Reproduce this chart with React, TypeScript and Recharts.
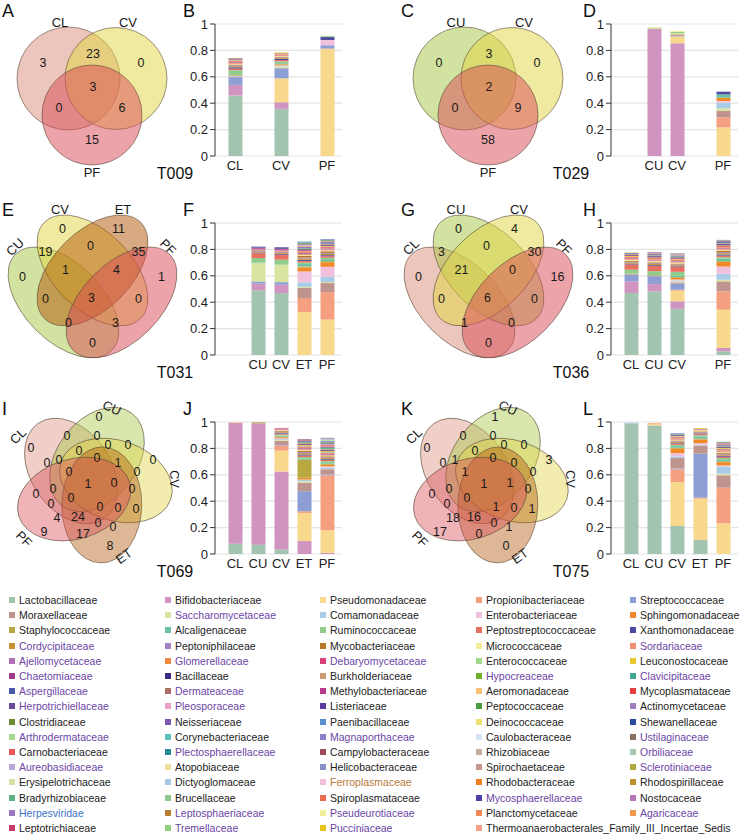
import React from "react";
import { BarChart, Bar, XAxis, YAxis, CartesianGrid, ScatterChart, Scatter } from "recharts";

const FONT = "'Liberation Sans', Arial, Helvetica, sans-serif";

// families in legend order (row by row) = stacking order from the bottom
const families = [
  "Lactobacillaceae", "Bifidobacteriaceae", "Pseudomonadaceae", "Propionibacteriaceae", "Streptococcaceae",
  "Moraxellaceae", "Saccharomycetaceae", "Comamonadaceae", "Enterobacteriaceae", "Sphingomonadaceae",
  "Staphylococcaceae", "Alcaligenaceae", "Ruminococcaceae", "Peptostreptococcaceae", "Xanthomonadaceae",
  "Cordycipitaceae", "Peptoniphilaceae", "Mycobacteriaceae", "Micrococcaceae", "Sordariaceae",
  "Ajellomycetaceae", "Glomerellaceae", "Debaryomycetaceae", "Enterococcaceae", "Leuconostocaceae",
  "Chaetomiaceae", "Bacillaceae", "Burkholderiaceae", "Hypocreaceae", "Clavicipitaceae",
  "Aspergillaceae", "Dermateaceae", "Methylobacteriaceae", "Aeromonadaceae", "Mycoplasmataceae",
  "Herpotrichiellaceae", "Pleosporaceae", "Listeriaceae", "Peptococcaceae", "Actinomycetaceae",
  "Clostridiaceae", "Neisseriaceae", "Paenibacillaceae", "Deinococcaceae", "Shewanellaceae",
  "Arthrodermataceae", "Corynebacteriaceae", "Magnaporthaceae", "Caulobacteraceae", "Ustilaginaceae",
  "Carnobacteriaceae", "Plectosphaerellaceae", "Campylobacteraceae", "Rhizobiaceae", "Orbiliaceae",
  "Aureobasidiaceae", "Atopobiaceae", "Helicobacteraceae", "Spirochaetaceae", "Sclerotiniaceae",
  "Erysipelotrichaceae", "Dictyoglomaceae", "Ferroplasmaceae", "Rhodobacteraceae", "Rhodospirillaceae",
  "Bradyrhizobiaceae", "Brucellaceae", "Spiroplasmataceae", "Mycosphaerellaceae", "Nostocaceae",
  "Herpesviridae", "Leptosphaeriaceae", "Pseudeurotiaceae", "Planctomycetaceae", "Agaricaceae",
  "Leptotrichiaceae", "Tremellaceae", "Pucciniaceae", "Thermoanaerobacterales_Family_III_Incertae_Sedis",
];

const familyColors = [
  "#a3c4b0", "#d094c0", "#f8d88c", "#f4a080", "#8c9ed4",
  "#c0948e", "#d8e4a0", "#a8cce8", "#f0c0dc", "#f08a28",
  "#b8a840", "#6ac0a0", "#90cc8c", "#e87060", "#4a4aa0",
  "#c89030", "#a080c0", "#b87828", "#f0ec98", "#f09070",
  "#b070b8", "#f08a40", "#d8407a", "#a0d890", "#e8c830",
  "#9c3a8c", "#3a2a80", "#c89c70", "#70b030", "#40a890",
  "#4a58a8", "#a87068", "#b83a8a", "#f8c070", "#e84040",
  "#6a4a9a", "#e8a0c8", "#5a3a9a", "#4a9a40", "#a080c0",
  "#6a8a30", "#7a5ab0", "#5a90d0", "#f0e070", "#2a4aa0",
  "#a8d890", "#5ac0c0", "#8a80c8", "#d8e4f4", "#8a7060",
  "#e85a5a", "#2a8a9a", "#a04a60", "#c0b098", "#a8c8b0",
  "#b8a8d8", "#f0e0a0", "#8890c8", "#c89890", "#b0a840",
  "#d8e0a8", "#a8c8e8", "#f0c0d8", "#f08020", "#c09030",
  "#5ab080", "#90c890", "#e86a50", "#4a40a8", "#b878b8",
  "#9a78c0", "#b88030", "#f0f098", "#f08858", "#f09850",
  "#c83a6a", "#90d080", "#e8c020", "#f8a088",
];

const fungalFamilies = [
  "Saccharomycetaceae", "Cordycipitaceae", "Sordariaceae", "Ajellomycetaceae", "Glomerellaceae",
  "Debaryomycetaceae", "Chaetomiaceae", "Hypocreaceae", "Clavicipitaceae", "Aspergillaceae",
  "Dermateaceae", "Herpotrichiellaceae", "Pleosporaceae", "Arthrodermataceae", "Magnaporthaceae",
  "Ustilaginaceae", "Plectosphaerellaceae", "Orbiliaceae", "Aureobasidiaceae", "Sclerotiniaceae",
  "Mycosphaerellaceae", "Leptosphaeriaceae", "Pseudeurotiaceae", "Agaricaceae", "Tremellaceae",
  "Pucciniaceae",
];
const viralFamilies = ["Herpesviridae"];
const archaealFamilies = ["Ferroplasmaceae"];

const slots = ["CL", "CU", "CV", "ET", "PF"];
const yTicks = [0, 0.2, 0.4, 0.6, 0.8, 1];
const gridValues = [0, 0.1, 0.2, 0.3, 0.4, 0.5, 0.6, 0.7, 0.8, 0.9, 1];

// relative abundance per sample, in family order
const t009CL = [0.458, 0.081, 0, 0, 0.058, 0.004, 0, 0.003, 0.002, 0.003, 0.006, 0.005, 0.03, 0.012, 0.01, 0.008, 0.007, 0.006, 0.005, 0.007, 0.006, 0.005, 0.005, 0.005, 0.004, 0.004, 0.004, 0.004];
const t009CV = [0.357, 0.05, 0.18, 0.002, 0.075, 0.004, 0.01, 0.004, 0.005, 0.006, 0.006, 0.006, 0.012, 0.01, 0.008, 0.006, 0.006, 0.005, 0.005, 0.006, 0.005, 0.005, 0.004, 0.004, 0.004];
const t009PF = [0, 0, 0.81, 0.004, 0.025, 0, 0, 0, 0.04, 0, 0, 0, 0, 0, 0.022, 0, 0, 0, 0, 0, 0, 0, 0, 0.008];

const t029CU = [0, 0.962, 0, 0, 0, 0, 0.013];
const t029CV = [0, 0.854, 0.052, 0, 0.004, 0.012, 0.01, 0, 0, 0, 0, 0, 0.008, 0, 0, 0, 0, 0, 0.007];
const t029PF = [0, 0, 0.217, 0.076, 0, 0.048, 0.02, 0.043, 0.013, 0.025, 0, 0.025, 0, 0, 0.02];

const t031CU = [0.49, 0.05, 0, 0, 0.017, 0, 0.139, 0, 0, 0, 0, 0.004, 0.035, 0.036, 0.005, 0.005, 0.006, 0.005, 0, 0.005, 0.004, 0, 0.005, 0, 0, 0.004, 0.004, 0, 0, 0, 0.004, 0, 0, 0, 0, 0.003];
const t031CV = [0.47, 0.062, 0, 0, 0.02, 0, 0.132, 0, 0, 0, 0, 0, 0.038, 0.038, 0.006, 0.006, 0.006, 0.005, 0, 0.006, 0.005, 0, 0.005, 0, 0, 0.005, 0.005, 0, 0, 0, 0.005, 0, 0, 0, 0, 0.004];
const t031ET = [0, 0, 0.326, 0.106, 0, 0.076, 0.008, 0.035, 0.082, 0.03, 0.008, 0.018, 0.012, 0.012, 0.008, 0.01, 0.008, 0.012, 0.006, 0.008, 0.008, 0.006, 0.006, 0, 0.005, 0.006, 0.005, 0.005, 0, 0.005, 0.005, 0, 0.004, 0.005, 0, 0.004, 0.005, 0, 0.004, 0.004, 0.005, 0.004, 0.004, 0, 0, 0.003, 0.003];
const t031PF = [0, 0, 0.268, 0.209, 0, 0.068, 0.008, 0.04, 0.075, 0.035, 0.008, 0.015, 0.01, 0.012, 0.008, 0.01, 0.008, 0.012, 0.006, 0.008, 0.008, 0.006, 0.006, 0, 0.005, 0.006, 0.005, 0.005, 0, 0.005, 0.005, 0, 0.004, 0, 0, 0.004, 0.004, 0, 0.004, 0, 0.004, 0.004, 0.003];

const t036CL = [0.47, 0.087, 0, 0, 0.05, 0.004, 0, 0, 0, 0, 0.005, 0, 0.03, 0.04, 0.006, 0.008, 0.006, 0.007, 0.008, 0.006, 0.006, 0.005, 0.006, 0, 0.006, 0.005, 0.005, 0.005, 0, 0.004, 0.004, 0, 0, 0.004];
const t036CU = [0.482, 0.055, 0, 0, 0.06, 0.004, 0, 0, 0, 0, 0.004, 0, 0.03, 0.04, 0.006, 0.008, 0.006, 0.007, 0.008, 0.006, 0.006, 0.005, 0.006, 0, 0.006, 0.005, 0.005, 0.005, 0, 0.004, 0.004, 0, 0.005, 0.004, 0, 0.006];
const t036CV = [0.35, 0.057, 0.08, 0.008, 0.045, 0.01, 0.008, 0.006, 0.008, 0.012, 0.006, 0.01, 0.03, 0.036, 0.006, 0.008, 0.006, 0.007, 0.007, 0.006, 0.006, 0.005, 0.006, 0, 0.006, 0.005, 0.005, 0.005, 0, 0.004, 0.004, 0, 0, 0.004, 0, 0.004, 0.004, 0, 0.004, 0.003];
const t036PF = [0.028, 0.025, 0.29, 0.14, 0, 0.075, 0.012, 0.045, 0.055, 0.035, 0.006, 0.02, 0.01, 0.012, 0.008, 0.01, 0.008, 0.012, 0.006, 0.008, 0.008, 0.006, 0.006, 0, 0.005, 0.006, 0.005, 0.005, 0, 0.005, 0.005, 0, 0.004, 0, 0, 0.004, 0.004, 0, 0.004];

const t069CL = [0.078, 0.914, 0.004, 0.002];
const t069CU = [0.071, 0.92, 0, 0, 0, 0, 0, 0, 0, 0, 0.007];
const t069CV = [0.035, 0.59, 0.158, 0.038, 0.004, 0.033, 0.006, 0.006, 0.006, 0.008, 0.006, 0.007, 0.007, 0.007, 0.005, 0.006, 0.005, 0.005, 0.005, 0.005, 0.005, 0.004, 0.004];
const t069ET = [0, 0.098, 0.213, 0.013, 0.152, 0.064, 0.012, 0.012, 0, 0.014, 0.136, 0.01, 0.01, 0.012, 0.008, 0.01, 0.008, 0.008, 0.006, 0.008, 0.008, 0.006, 0.006, 0.005, 0.006, 0.006, 0.005, 0.005, 0.004, 0.005, 0.005, 0.004, 0.004, 0.004, 0, 0.004];
const t069PF = [0, 0.008, 0.172, 0.416, 0.006, 0.04, 0, 0.012, 0.01, 0.012, 0.008, 0.01, 0.01, 0.008, 0.006, 0.008, 0.006, 0.008, 0.005, 0.006, 0.006, 0.006, 0.005, 0.005, 0.006, 0.005, 0.005, 0.005, 0.004, 0.005, 0.005, 0.004, 0.004, 0.005, 0.004, 0.004, 0.004, 0.004, 0.004, 0.004, 0.004, 0.004, 0.003, 0.003, 0, 0.003, 0.003, 0.004, 0.004, 0, 0.004, 0.003];

const t075CL = [0.99, 0, 0, 0, 0, 0, 0, 0.005];
const t075CU = [0.973, 0, 0.01, 0.004, 0, 0, 0, 0, 0, 0.003];
const t075CV = [0.212, 0, 0.333, 0.096, 0.006, 0.08, 0, 0.012, 0.025, 0.035, 0.006, 0.012, 0.01, 0.01, 0.006, 0.006, 0.005, 0.006, 0.005, 0.005, 0.005, 0.005, 0.005, 0.004, 0.004, 0.004, 0.004, 0.004, 0, 0.004, 0.004];
const t075ET = [0.106, 0, 0.313, 0.008, 0.333, 0.062, 0, 0.006, 0.012, 0.028, 0.006, 0.015, 0.01, 0.008, 0.006, 0.006, 0.005, 0.005, 0.008, 0.005, 0.005, 0, 0, 0, 0.006];
const t075PF = [0, 0, 0.232, 0.27, 0, 0.094, 0.012, 0.055, 0.008, 0.025, 0.006, 0.015, 0.01, 0.01, 0.008, 0.008, 0.006, 0.008, 0.005, 0.006, 0.006, 0.005, 0.005, 0.004, 0.005, 0.004, 0.004, 0.004, 0, 0.004, 0.004, 0.004, 0.004, 0.005, 0, 0.004, 0.005, 0, 0.005];

// Venn region counts
const t009Venn = [3, 23, 0, 3, 0, 6, 15];
const t029Venn = [0, 3, 0, 2, 0, 9, 58];
const t031Venn = [0, 11, 19, 0, 35, 0, 1, 4, 1, 0, 3, 0, 0, 3, 0];
const t036Venn = [0, 4, 3, 0, 30, 0, 21, 0, 16, 0, 6, 0, 1, 0, 0];
const t069Venn = [0, 0, 0, 0, 0, 0, 0, 0, 0, 0, 0, 1, 0, 0, 0, 0, 1, 0, 0, 0, 0, 4, 24, 0, 0, 0, 9, 17, 0, 0, 8];
const t075Venn = [1, 0, 0, 0, 0, 0, 0, 3, 0, 1, 0, 0, 1, 0, 0, 0, 1, 1, 0, 0, 0, 18, 16, 1, 0, 1, 17, 0, 0, 1, 0];

const sampleColors: Record<string, string> = {
  CL: "#d98d79",
  CU: "#a5c541",
  CV: "#e1d541",
  ET: "#b15505",
  PF: "#d94955",
};

// Venn layouts (local pixel frame of each Venn panel)
const triCircles = [
  { x: 68.5, y: 78.5, r: 51.5 },
  { x: 116, y: 78.5, r: 51 },
  { x: 92, y: 115, r: 50 },
];
const triCountPos = [[43, 63], [93, 54], [141, 63], [93, 87], [59, 108], [122, 108], [92, 140]];
const triNamePos = [[60, 22, 0], [128, 22, 0], [92, 172, 0]];

const quadEllipses = [
  { x: 63.5, y: 103.4, rot: 45 },
  { x: 92.5, y: 71.4, rot: 45 },
  { x: 92.5, y: 71.4, rot: -45 },
  { x: 121.5, y: 103.4, rot: -45 },
];
const quadAxes = { rx: 68, ry: 39 };
const quadCountPos = [
  [62.5, 30], [118.5, 30], [45.5, 53], [90.5, 47], [138.5, 53],
  [22.5, 78], [65.5, 71], [116.5, 71], [161.5, 78],
  [45.5, 100], [91.5, 99], [138.5, 100], [68.5, 124], [115.5, 124], [92.5, 144],
];
const quadNamePos = [[15, 48, -45], [60, 10, 0], [123, 10, 0], [168, 48, 45]];

const quintCenter = { x: 92, y: 85 };
const quintAngles = [300, 12, 84, 156, 228];
const quintShape = { offset: 24, radial: 58, tangential: 40, twist: 25 };
const quintCountPos = [
  [99, 19], [31, 50], [67, 38], [97, 38], [108, 47], [128, 47], [79, 53], [153, 62],
  [47, 65], [59, 62], [97, 60], [118, 65], [69, 74], [137, 74], [36, 96], [53, 91],
  [88, 86], [114, 85], [132, 91], [71, 100], [51, 106], [57, 120], [78, 119], [100, 109],
  [118, 110], [136, 111], [44, 134], [83, 136], [98, 125], [113, 129], [110, 148],
];
const quintNamePos = [[18, 38, -45], [112, 10, 25], [174, 81, 90], [124, 158, -35], [24, 141, 45]];

type Samples = Record<string, number[]>;

const buildRows = (samples: Samples) =>
  slots.map((s) => {
    const row: Record<string, any> = { name: s };
    families.forEach((f, i) => {
      row[f] = samples[s] ? samples[s][i] ?? 0 : 0;
    });
    return row;
  });

const EllipseShape = (p: any) => {
  const d = p.payload;
  return (
    <ellipse
      cx={p.cx}
      cy={p.cy}
      rx={d.rx}
      ry={d.ry}
      transform={`rotate(${d.rot} ${p.cx} ${p.cy})`}
      fill={d.color}
      fillOpacity={d.alpha}
      stroke="#5a4a3a"
      strokeOpacity={0.65}
      strokeWidth={0.9}
    />
  );
};

const TextShape = (p: any) => {
  const d = p.payload;
  return (
    <text
      x={p.cx}
      y={p.cy}
      textAnchor="middle"
      dominantBaseline="central"
      fontSize={d.size}
      fontFamily={FONT}
      fill="#1a1a1a"
      transform={d.rot ? `rotate(${d.rot} ${p.cx} ${p.cy})` : undefined}
    >
      {d.text}
    </text>
  );
};

function vennShapes(kind: string, sets: string[]) {
  if (kind === "tri") {
    return triCircles.map((c, i) => ({ x: c.x, y: c.y, rx: c.r, ry: c.r, rot: 0, alpha: 0.5, color: sampleColors[sets[i]] }));
  }
  if (kind === "quad") {
    return quadEllipses.map((e, i) => ({ x: e.x, y: e.y, rx: quadAxes.rx, ry: quadAxes.ry, rot: e.rot, alpha: 0.5, color: sampleColors[sets[i]] }));
  }
  return quintAngles.map((a, i) => {
    const t = (a * Math.PI) / 180;
    return {
      x: quintCenter.x + quintShape.offset * Math.sin(t),
      y: quintCenter.y - quintShape.offset * Math.cos(t),
      rx: quintShape.radial,
      ry: quintShape.tangential,
      rot: a - 90 + quintShape.twist,
      alpha: 0.42,
      color: sampleColors[sets[i]],
    };
  });
}

function vennLabels(kind: string, sets: string[], counts: number[]) {
  const countPos = kind === "tri" ? triCountPos : kind === "quad" ? quadCountPos : quintCountPos;
  const namePos = kind === "tri" ? triNamePos : kind === "quad" ? quadNamePos : quintNamePos;
  const countLabels = counts.map((c, i) => ({ x: countPos[i][0], y: countPos[i][1], text: String(c), size: 12.5, rot: 0 }));
  const nameLabels = sets.map((s, i) => ({ x: namePos[i][0], y: namePos[i][1], text: s, size: 13, rot: namePos[i][2] }));
  return [...countLabels, ...nameLabels];
}

function VennChart({ kind, sets, counts }: { kind: string; sets: string[]; counts: number[] }) {
  return (
    <ScatterChart width={200} height={180} margin={{ top: 0, right: 0, bottom: 0, left: 0 }}>
      <XAxis type="number" dataKey="x" domain={[0, 200]} hide />
      <YAxis type="number" dataKey="y" domain={[0, 180]} reversed hide />
      <Scatter data={vennShapes(kind, sets)} shape={EllipseShape} isAnimationActive={false} />
      <Scatter data={vennLabels(kind, sets, counts)} shape={TextShape} isAnimationActive={false} />
    </ScatterChart>
  );
}

function StackChart({ samples }: { samples: Samples }) {
  const rows = buildRows(samples);
  return (
    <BarChart width={180} height={185} data={rows} margin={{ top: 24, right: 8, bottom: 9, left: 0 }} barSize={14}>
      <CartesianGrid vertical={false} horizontalValues={gridValues} stroke="#e4e4e4" strokeWidth={1.2} />
      <XAxis
        dataKey="name"
        axisLine={false}
        tickLine={false}
        tickSize={3}
        interval={0}
        height={20}
        padding={{ left: 8.5, right: 3.5 }}
        tick={{ fontSize: 13, fill: "#222", fontFamily: FONT }}
        tickFormatter={(v: string) => (samples[v] ? v : "")}
      />
      <YAxis
        type="number"
        domain={[0, 1]}
        ticks={yTicks}
        width={45}
        tickSize={5}
        axisLine={{ stroke: "#333" }}
        tickLine={{ stroke: "#333" }}
        tick={{ fontSize: 13, fill: "#222", fontFamily: FONT }}
      />
      {families.map((f, i) => (
        <Bar key={f} dataKey={f} stackId="s" fill={familyColors[i]} isAnimationActive={false} />
      ))}
    </BarChart>
  );
}

const panels = [
  { col: 0, row: 0, letters: ["A", "B"], title: "T009", kind: "tri", sets: ["CL", "CV", "PF"], counts: t009Venn, samples: { CL: t009CL, CV: t009CV, PF: t009PF } },
  { col: 1, row: 0, letters: ["C", "D"], title: "T029", kind: "tri", sets: ["CU", "CV", "PF"], counts: t029Venn, samples: { CU: t029CU, CV: t029CV, PF: t029PF } },
  { col: 0, row: 1, letters: ["E", "F"], title: "T031", kind: "quad", sets: ["CU", "CV", "ET", "PF"], counts: t031Venn, samples: { CU: t031CU, CV: t031CV, ET: t031ET, PF: t031PF } },
  { col: 1, row: 1, letters: ["G", "H"], title: "T036", kind: "quad", sets: ["CL", "CU", "CV", "PF"], counts: t036Venn, samples: { CL: t036CL, CU: t036CU, CV: t036CV, PF: t036PF } },
  { col: 0, row: 2, letters: ["I", "J"], title: "T069", kind: "quint", sets: ["CL", "CU", "CV", "ET", "PF"], counts: t069Venn, samples: { CL: t069CL, CU: t069CU, CV: t069CV, ET: t069ET, PF: t069PF } },
  { col: 1, row: 2, letters: ["K", "L"], title: "T075", kind: "quint", sets: ["CL", "CU", "CV", "ET", "PF"], counts: t075Venn, samples: { CL: t075CL, CU: t075CU, CV: t075CV, ET: t075ET, PF: t075PF } },
];

const colX = [0, 396];
const rowY = [0, 199, 398];
const legendColX = [9, 165, 320, 476, 630];

const legendTextColor = (f: string) => {
  if (fungalFamilies.includes(f)) return "#6b45a6";
  if (viralFamilies.includes(f)) return "#3c72c4";
  if (archaealFamilies.includes(f)) return "#b87a3a";
  return "#222";
};

export default function App() {
  return (
    <div style={{ position: "absolute", left: 0, top: 0, width: 742, height: 835, background: "#fff", fontFamily: FONT, overflow: "hidden" }}>
      <style>{".recharts-surface{overflow:visible}"}</style>
      {panels.map((p) => {
        const x0 = colX[p.col];
        const y0 = rowY[p.row];
        return (
          <React.Fragment key={p.title}>
            <div style={{ position: "absolute", left: x0, top: y0 }}>
              <VennChart kind={p.kind} sets={p.sets} counts={p.counts} />
            </div>
            <div style={{ position: "absolute", left: x0 + 170, top: y0 }}>
              <StackChart samples={p.samples} />
            </div>
            <div style={{ position: "absolute", left: x0 + (p.col ? 5 : 2), top: y0 + 2, fontSize: 18, lineHeight: "18px", color: "#111" }}>
              {p.letters[0]}
            </div>
            <div style={{ position: "absolute", left: x0 + (p.col ? 187 : 183), top: y0 + 2, fontSize: 18, lineHeight: "18px", color: "#111" }}>
              {p.letters[1]}
            </div>
            <div style={{ position: "absolute", left: x0 + 135, width: 80, textAlign: "center", top: y0 + 166, fontSize: 16, lineHeight: "16px", color: "#111" }}>
              {p.title}
            </div>
          </React.Fragment>
        );
      })}
      {families.map((f, i) => {
        const c = i % 5;
        const r = Math.floor(i / 5);
        const cy = 600 + r * 15.2;
        return (
          <div key={f} style={{ position: "absolute", left: legendColX[c], top: cy - 7, height: 14, display: "flex", alignItems: "center", whiteSpace: "nowrap" }}>
            <span style={{ width: 6, height: 6, background: familyColors[i], display: "inline-block", marginRight: 4 }} />
            <span style={{ fontSize: 10.5, lineHeight: "14px", color: legendTextColor(f) }}>{f}</span>
          </div>
        );
      })}
    </div>
  );
}
